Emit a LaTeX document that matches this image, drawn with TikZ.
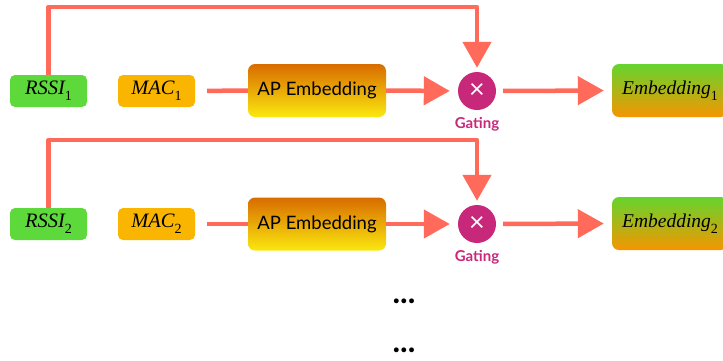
\documentclass[tikz,border=0pt]{standalone}
\usepackage{fontspec}
\newfontfamily\lato{Lato}
\newfontfamily\libser{Liberation Serif}
\usetikzlibrary{arrows.meta,calc}
\definecolor{linec}{HTML}{FF6A5A}
\definecolor{rssic}{HTML}{5ED93B}
\definecolor{macc}{HTML}{F9B500}
\definecolor{aptop}{HTML}{D86C00}
\definecolor{apbot}{HTML}{FAE80F}
\definecolor{emtop}{HTML}{66D42E}
\definecolor{embot}{HTML}{F59500}
\definecolor{gatec}{HTML}{C8287A}
\newcommand{\varsub}[2]{{\libser\itshape #1}\raisebox{-0.28em}{\fontsize{14}{14}\selectfont\libser #2}}
\tikzset{
  smallbox/.style={rounded corners=5pt, minimum width=77pt, minimum height=32pt, inner sep=0pt, font=\libser\fontsize{20.5}{22}\selectfont},
  rssibox/.style={smallbox, fill=rssic},
  macbox/.style={smallbox, fill=macc},
  apbox/.style={rounded corners=7pt, minimum width=138pt, minimum height=53pt, inner sep=0pt, top color=aptop, bottom color=apbot, font=\lato\fontsize{18.5}{20}\selectfont},
  embox/.style={rounded corners=7pt, minimum width=116pt, minimum height=53pt, inner sep=0pt, top color=emtop, bottom color=embot, font=\libser\fontsize{19.5}{22}\selectfont},
  gatenode/.style={circle, fill=gatec, minimum size=38pt, inner sep=0pt, text=white, font=\lato\fontsize{27}{27}\selectfont},
  gatelbl/.style={text=gatec, font=\lato\bfseries\fontsize{15}{16}\selectfont},
  conn/.style={draw=linec, line width=4.5pt, line join=round},
  arr/.style={conn, -{Triangle[width=28pt,length=26pt]}},
  dots/.style={font=\lato\bfseries\fontsize{32}{32}\selectfont}
}
\begin{document}
\begin{tikzpicture}[x=1pt,y=-1pt]
\useasboundingbox (0,0) rectangle (723,360);
% row 1
\node[rssibox] (r1) at (48.5,91) {\varsub{RSSI}{1}};
\node[macbox] (m1) at (156.5,91) {\varsub{MAC}{1}};
\node[apbox] (a1) at (317,90.5) {AP Embedding};
\node[gatenode] (g1) at (477,91) {×};
\node[gatelbl] (gl1) at (477,124) {Gating};
\node[embox] (e1) at (670,90.5) {\varsub{Embedding}{1}};
\coordinate (t1) at (477,7);
% row 2
\node[rssibox] (r2) at (48.5,224) {\varsub{RSSI}{2}};
\node[macbox] (m2) at (156.5,224) {\varsub{MAC}{2}};
\node[apbox] (a2) at (317,224) {AP Embedding};
\node[gatenode] (g2) at (477,224) {×};
\node[gatelbl] (gl2) at (477,257) {Gating};
\node[embox] (e2) at (670,223.5) {\varsub{Embedding}{2}};
\coordinate (t2) at (477,140);
% connectors
\foreach \i in {1,2}{
  \draw[conn, shorten <=12pt] (m\i.east) -- (a\i.west);
  \draw[arr, shorten >=8pt] (a\i.east) -- (g\i.west);
  \draw[arr, shorten <=7pt, shorten >=8pt] (g\i.east) -- (e\i.west);
  \draw[arr, shorten >=4pt] (r\i.north) |- (t\i) -- (g\i.north);
}
\node[dots] (d1) at (404,301) {...};
\node[dots] (d2) at (404,350) {...};
\end{tikzpicture}
\end{document}
